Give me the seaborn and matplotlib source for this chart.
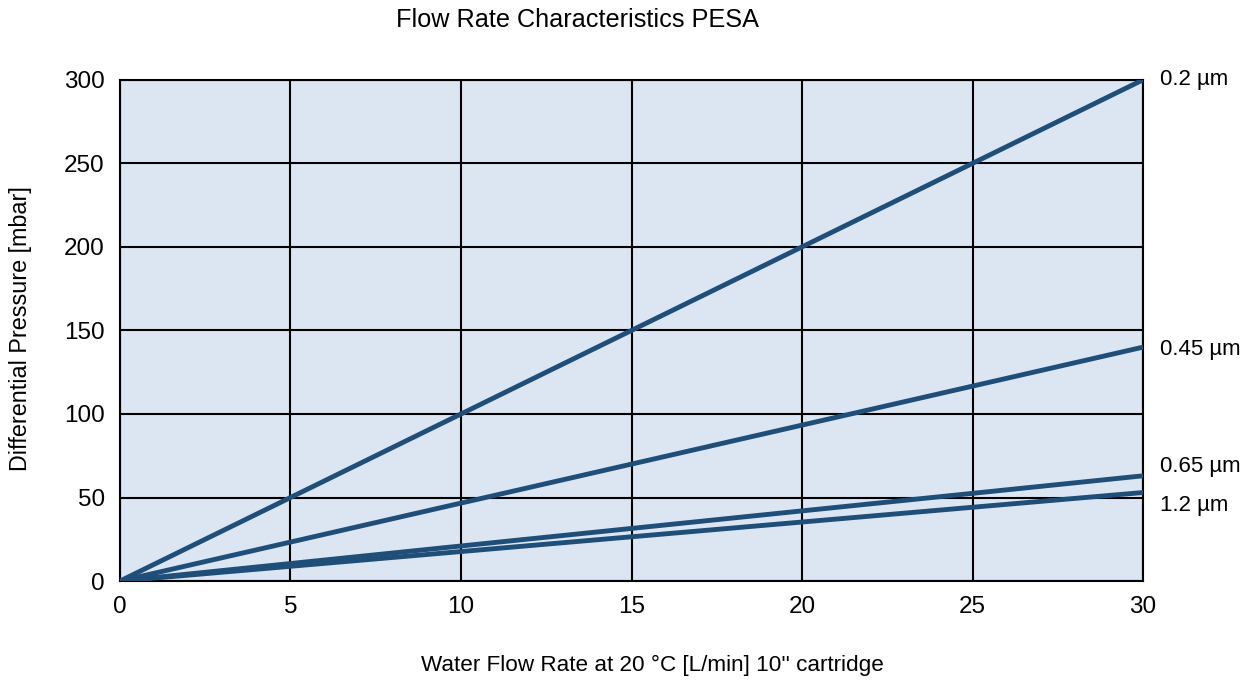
import numpy as np
import pandas as pd
import seaborn as sns
import matplotlib.pyplot as plt

# water flow rate [L/min] and differential pressure [mbar] per pore size
flow = [0, 30]
p_02 = [0, 300]
p_045 = [0, 140]
p_065 = [0, 63]
p_12 = [0, 53]
pore_labels = ["0.2 µm", "0.45 µm", "0.65 µm", "1.2 µm"]

df = pd.DataFrame({
    "flow": flow * 4,
    "dp": p_02 + p_045 + p_065 + p_12,
    "pore": [lab for lab in pore_labels for _ in flow],
})

sns.set_style("white")
plt.rcParams['font.family'] = ['Liberation Sans', 'DejaVu Sans']
plt.rcParams['text.color'] = 'black'

fs = 17.5
fig = plt.figure(figsize=(12.52, 6.82), dpi=100)
ax = fig.add_axes([0.0958, 0.148, 0.8172, 0.735])
ax.set_facecolor("#dce6f2")

line_col = "#1f4e79"
sns.lineplot(data=df, x="flow", y="dp", units="pore", estimator=None,
             color=line_col, linewidth=3.5, ax=ax, legend=False,
             solid_capstyle="round", zorder=3)

ax.set_xlim(0, 30)
ax.set_ylim(0, 300)
ax.set_xticks(range(0, 31, 5))
ax.set_yticks(range(0, 301, 50))
ax.grid(True, color="black", linewidth=1.5)
ax.set_axisbelow(True)
for s in ax.spines.values():
    s.set_color("black")
    s.set_linewidth(1.5)
ax.tick_params(axis="both", direction="out", length=6, width=1.2,
               labelsize=fs, colors="black", pad=5)
ax.set_xlabel("")
ax.set_ylabel("")

# labels at end of lines
ends = [p_02[-1], p_045[-1], p_065[-1], p_12[-1]]
offs = [0, -2, 6.5, -9]
for lab, yv, off in zip(pore_labels, ends, offs):
    ax.annotate(lab, xy=(30, yv), xytext=(12, off), textcoords="offset points",
                va="center", ha="left", fontsize=16, annotation_clip=False)

fig.text(0.461, 0.97, "Flow Rate Characteristics PESA", ha="center", va="center", fontsize=18.2)
fig.text(0.521, 0.025, "Water Flow Rate at 20 °C [L/min] 10'' cartridge", ha="center", va="center", fontsize=16.2)
fig.text(0.016, 0.518, "Differential Pressure [mbar]", ha="center", va="center", rotation=90, fontsize=16.8)

fig.savefig("out.png", dpi=100)
